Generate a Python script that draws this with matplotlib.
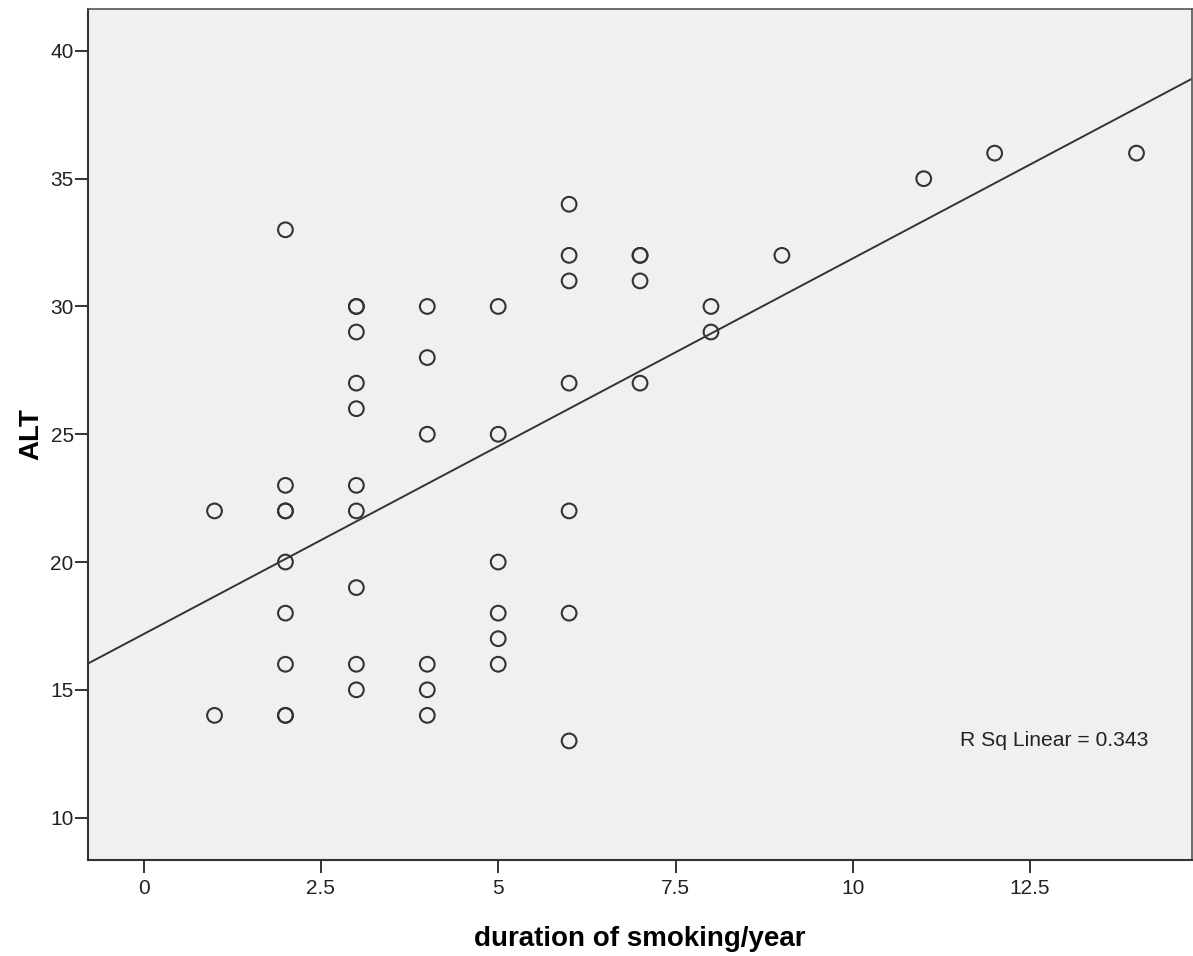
import matplotlib.pyplot as plt
import numpy as np

plt.rcParams['font.family'] = ['Liberation Sans', 'DejaVu Sans']

# duration of smoking (years) and ALT; repeated pairs are overlapping circles
duration = [1, 1,
            2, 2, 2, 2, 2, 2, 2, 2, 2,
            3, 3, 3, 3, 3, 3, 3, 3, 3, 3,
            4, 4, 4, 4, 4, 4,
            5, 5, 5, 5, 5, 5,
            6, 6, 6, 6, 6, 6, 6,
            7, 7, 7, 7,
            8, 8,
            9, 11, 12, 14]
alt = [22, 14,
       33, 23, 22, 22, 20, 18, 16, 14, 14,
       30, 30, 29, 27, 26, 23, 22, 19, 16, 15,
       30, 28, 25, 16, 15, 14,
       30, 25, 20, 18, 17, 16,
       34, 32, 31, 27, 22, 18, 13,
       32, 32, 31, 27,
       30, 29,
       32, 35, 36, 36]

# fit line as reported by SPSS
fit_intercept = 17.18
fit_slope = 1.47
r_sq = 0.343

x_ticks = [0, 2.5, 5, 7.5, 10, 12.5]
y_ticks = [10, 15, 20, 25, 30, 35, 40]

dark = '#333333'

fig = plt.figure(figsize=(11.93, 9.56), dpi=100)
ax = fig.add_axes([0.074, 0.1004, 0.925, 0.8902])
ax.set_facecolor('#f0f0f0')

ax.scatter(duration, alt, s=112, facecolors='none', edgecolors=dark, linewidths=1.5, zorder=3)
ax.axline((0, fit_intercept), slope=fit_slope, color=dark, lw=1.4, zorder=2)

ax.set_xlim(-0.78, 14.78)
ax.set_ylim(8.34, 41.64)
ax.set_xticks(x_ticks)
ax.set_xticklabels([f'{v:g}' for v in x_ticks])
ax.set_yticks(y_ticks)

ax.tick_params(axis='both', length=9.5, width=1.4, color=dark, labelsize=15, labelcolor='#222222')
ax.tick_params(axis='x', pad=4)
ax.tick_params(axis='y', pad=1)

for side in ['left', 'bottom']:
    ax.spines[side].set_linewidth(1.5)
    ax.spines[side].set_color(dark)
for side in ['top', 'right']:
    ax.spines[side].set_linewidth(1.2)
    ax.spines[side].set_color('#555555')

ax.set_xlabel('duration of smoking/year', fontsize=20, fontweight='bold', labelpad=20)
ax.set_ylabel('ALT', fontsize=20, fontweight='bold', labelpad=4)

ax.text(0.79, 0.14, f'R Sq Linear = {r_sq}', transform=ax.transAxes,
        fontsize=15.2, va='center', ha='left', color='#222222')

fig.savefig('out.png', dpi=100, facecolor='white')
